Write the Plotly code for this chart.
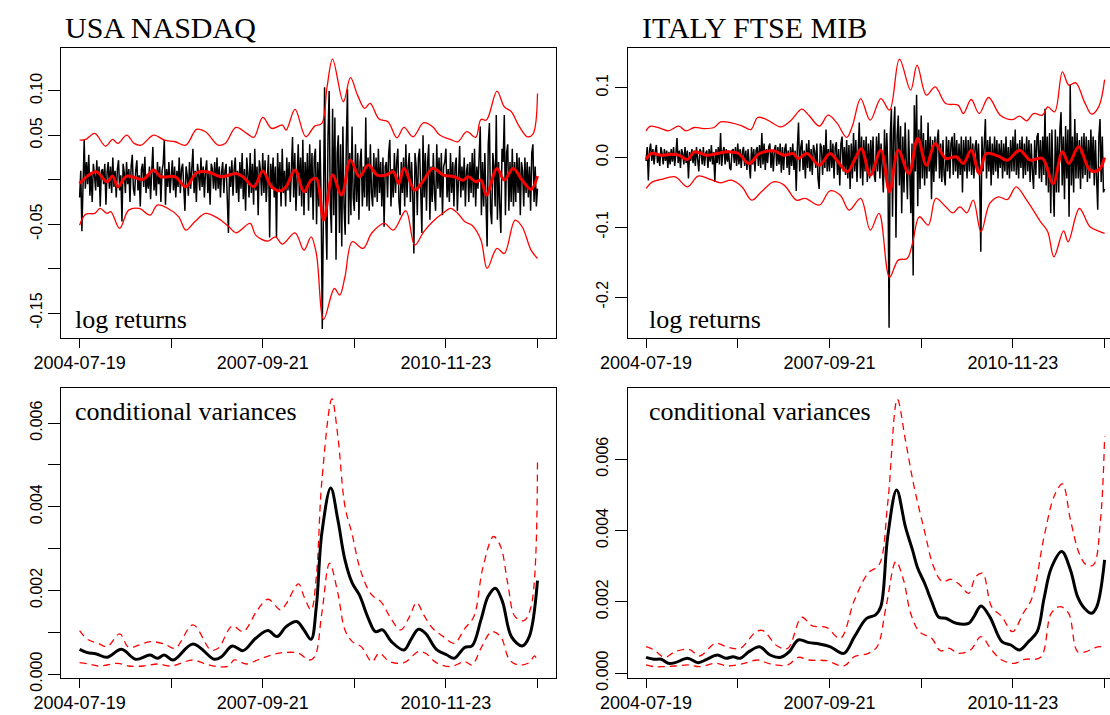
import plotly.graph_objects as go

W, H = 1110, 715

# ---------------- data ----------------
date_ticks = [0, 400, 800, 1200, 1600, 2000]
date_labels = ["2004-07-19", "", "2007-09-21", "", "2010-11-23", ""]

# log returns, one value every 5 observations (index 0..2000)
nasdaq_ret = [
    -0.020, 0.010, -0.058, 0.015, 0.045, -0.010, 0.020, -0.005, 0.028, -0.018, 0.008, -0.025, 0.018, 0.005, -0.012, 0.022, -0.008, 0.015, -0.030, 0.010,
    0.012, -0.005, 0.018, -0.028, 0.008, 0.020, -0.010, 0.015, -0.015, 0.025, -0.008, 0.010, -0.020, 0.012, 0.022, -0.012, 0.005, -0.047, 0.018, 0.008,
    -0.015, 0.020, -0.005, 0.012, -0.025, 0.015, 0.028, -0.010, -0.018, 0.010, 0.022, -0.012, 0.005, -0.030, 0.012, 0.018, -0.008, 0.026, -0.015, 0.006,
    -0.010, 0.015, -0.022, 0.010, 0.037, -0.012, 0.008, -0.018, 0.020, -0.005, 0.015, -0.025, 0.010, 0.018, 0.045, -0.028, 0.012, -0.008, 0.020, -0.015,
    0.008, 0.022, -0.012, 0.015, -0.020, 0.010, -0.008, 0.025, -0.015, 0.012, 0.018, -0.010, -0.035, 0.015, 0.005, -0.018, 0.020, -0.010, 0.012, 0.035,
    -0.015, 0.010, -0.025, 0.018, 0.005, -0.012, 0.025, -0.008, 0.015, -0.020, 0.010, 0.022, -0.015, 0.008, -0.028, 0.018, 0.012, -0.010, 0.020, -0.012,
    0.025, -0.010, 0.015, -0.020, 0.008, 0.020, -0.015, 0.010, 0.018, -0.012, -0.060, 0.015, -0.008, 0.022, -0.018, 0.012, 0.025, -0.015, 0.010, -0.025,
    0.020, -0.010, 0.030, -0.022, 0.012, -0.035, 0.025, 0.008, -0.020, 0.030, -0.015, 0.018, -0.028, 0.035, -0.012, 0.015, -0.040, 0.022, 0.010, -0.018,
    0.030, -0.015, 0.022, -0.025, 0.012, 0.028, -0.065, 0.018, -0.010, 0.025, -0.020, 0.015, -0.065, 0.030, -0.012, 0.020, -0.030, 0.035, -0.015, 0.010,
    -0.030, 0.025, -0.012, 0.020, -0.025, 0.015, 0.048, -0.020, 0.030, -0.035, 0.012, 0.040, -0.018, 0.025, -0.030, 0.045, -0.040, 0.020, -0.015, 0.030,
    -0.035, 0.040, -0.020, 0.030, -0.045, 0.025, 0.035, -0.050, 0.020, -0.030, 0.045, -0.025, -0.168, 0.030, 0.104, -0.040, -0.090, 0.050, 0.100, -0.030,
    -0.060, 0.080, -0.040, 0.070, -0.090, 0.030, 0.050, -0.060, 0.040, -0.075, 0.060, -0.030, -0.062, 0.040, 0.102, -0.050, 0.030, -0.040, 0.060, -0.020,
    -0.035, 0.040, -0.025, 0.030, -0.045, 0.020, 0.035, -0.030, 0.015, -0.020, 0.070, -0.030, 0.025, -0.035, 0.040, -0.015, -0.030, 0.030, -0.020, 0.025,
    -0.025, 0.035, -0.015, 0.020, -0.030, 0.025, -0.053, 0.015, 0.020, -0.020, 0.030, 0.045, -0.030, 0.012, -0.020, 0.030, -0.015, 0.020, 0.035, -0.025,
    -0.040, 0.020, -0.015, 0.025, -0.030, 0.040, -0.020, 0.015, 0.030, -0.025, 0.020, -0.015, -0.083, 0.030, 0.015, -0.040, 0.025, 0.035, -0.030, -0.060,
    0.050, -0.020, 0.030, -0.035, 0.020, 0.040, -0.045, 0.015, -0.025, 0.030, -0.015, -0.035, 0.040, -0.010, 0.025, -0.020, 0.030, -0.040, 0.015, 0.020,
    0.035, -0.020, 0.012, -0.025, 0.030, -0.015, 0.020, -0.030, 0.015, 0.025, -0.035, 0.010, 0.038, -0.020, 0.015, -0.012, 0.025, -0.030, 0.010, 0.018,
    -0.025, 0.020, -0.015, 0.030, -0.020, 0.035, -0.030, 0.015, -0.010, 0.025, 0.060, -0.040, 0.020, -0.030, 0.030, -0.025, -0.075, 0.040, 0.064, -0.035,
    -0.050, 0.030, 0.015, -0.030, 0.073, -0.045, 0.020, -0.030, -0.060, 0.035, 0.020, 0.073, -0.040, 0.030, 0.040, -0.035, 0.020, -0.025, 0.035, -0.030,
    0.020, -0.025, 0.030, -0.015, 0.025, -0.040, 0.020, 0.010, -0.030, 0.025, -0.015, 0.020, -0.020, 0.015, -0.035, 0.030, 0.040, -0.025, 0.015, -0.030,
    -0.010,
]
italy_ret = [
    -0.005, 0.015, -0.033, 0.010, 0.020, -0.005, 0.012, -0.010, 0.008, 0.018, -0.008, 0.005, -0.012, 0.015, 0.006, -0.010, 0.012, -0.005, 0.010, -0.015,
    0.008, -0.010, 0.012, -0.006, 0.015, -0.012, 0.005, 0.028, -0.008, 0.010, -0.015, 0.012, 0.006, -0.010, 0.015, -0.008, 0.010, -0.030, 0.008, -0.005,
    0.012, -0.008, 0.010, -0.012, 0.015, -0.005, -0.020, 0.012, 0.008, -0.010, 0.015, -0.012, 0.006, 0.010, -0.015, 0.012, -0.006, 0.018, -0.010, 0.008,
    -0.035, 0.012, -0.008, 0.015, -0.010, 0.035, -0.012, 0.008, 0.015, -0.010, 0.012, -0.006, 0.010, -0.015, -0.018, 0.010, 0.012, -0.008, 0.015, -0.012,
    0.020, -0.010, 0.012, -0.015, 0.008, 0.015, -0.012, 0.010, -0.018, 0.012, -0.008, -0.030, 0.015, -0.010, 0.012, -0.020, 0.010, 0.015, -0.012, 0.018,
    -0.015, 0.035, -0.010, 0.020, -0.018, 0.012, -0.008, 0.015, 0.020, -0.015, 0.010, -0.020, 0.012, 0.018, -0.012, 0.015, -0.010, 0.020, -0.022, 0.015,
    -0.018, 0.012, 0.020, -0.015, 0.010, -0.025, 0.015, -0.012, 0.020, -0.018, 0.010, -0.048, 0.015, 0.050, -0.020, 0.015, 0.025, -0.018, 0.010, -0.030,
    0.020, -0.015, 0.025, -0.020, 0.012, -0.025, 0.018, 0.010, -0.015, 0.020, -0.030, -0.045, 0.020, 0.015, -0.025, 0.018, -0.015, 0.040, -0.020, 0.012,
    -0.020, 0.025, -0.015, 0.020, -0.030, 0.015, 0.022, -0.025, 0.012, -0.040, 0.020, 0.030, -0.020, 0.015, -0.025, 0.025, -0.030, 0.018, -0.045, 0.020,
    -0.030, 0.035, -0.020, 0.025, -0.035, 0.020, 0.050, -0.030, 0.030, -0.040, 0.025, -0.020, 0.030, -0.035, 0.020, -0.030, 0.025, -0.020, 0.030, -0.025,
    -0.035, 0.030, -0.020, 0.035, -0.030, 0.020, -0.025, -0.050, 0.040, -0.030, 0.035, -0.020, -0.244, 0.030, 0.070, -0.085, 0.040, 0.073, -0.115, 0.030,
    0.060, -0.040, 0.045, -0.080, 0.030, -0.050, 0.050, -0.030, -0.060, 0.040, -0.030, -0.080, 0.020, -0.169, 0.075, -0.020, 0.090, -0.070, 0.040, -0.045,
    0.060, -0.030, 0.035, -0.040, 0.025, -0.030, 0.050, -0.020, 0.030, -0.060, 0.025, -0.035, 0.030, -0.020, 0.025, 0.040, -0.030, 0.020, -0.035, 0.025,
    -0.025, -0.040, 0.030, -0.020, 0.025, -0.030, 0.020, 0.030, -0.025, 0.035, -0.020, 0.025, -0.030, 0.020, -0.025, 0.030, -0.050, 0.025, -0.020, 0.030,
    -0.030, 0.025, -0.020, 0.030, -0.025, 0.020, -0.030, 0.015, 0.025, -0.020, 0.020, -0.030, -0.135, 0.030, -0.020, 0.025, 0.055, -0.030, 0.025, -0.020,
    0.030, -0.040, 0.020, -0.025, 0.030, -0.020, 0.025, -0.030, 0.020, -0.015, 0.025, -0.030, 0.020, -0.020, 0.030, -0.025, 0.015, -0.030, 0.025, -0.020,
    0.030, -0.020, 0.040, -0.025, 0.020, -0.030, 0.025, -0.015, 0.030, -0.030, 0.020, -0.025, 0.030, -0.020, 0.025, -0.035, 0.020, -0.020, -0.045, 0.025,
    -0.025, 0.030, 0.035, -0.030, 0.025, -0.035, 0.030, -0.025, 0.070, -0.040, 0.030, -0.050, 0.035, -0.080, 0.040, -0.030, -0.085, 0.040, -0.050, 0.030,
    -0.050, 0.040, 0.065, -0.040, 0.030, -0.060, 0.045, -0.030, 0.040, -0.085, 0.105, -0.040, 0.030, -0.050, 0.055, -0.030, 0.035, -0.030, 0.025, -0.045,
    0.030, -0.030, 0.035, -0.025, 0.030, -0.035, 0.025, -0.030, 0.040, -0.020, 0.030, -0.040, 0.025, -0.030, -0.075, 0.030, 0.055, -0.035, 0.030, -0.050,
    -0.045,
]
nasdaq_idx = [5 * i for i in range(len(nasdaq_ret))]
italy_idx = [5 * i for i in range(len(italy_ret))]

# NASDAQ smoothed mean and bands
nq_up_x = [0, 27, 66, 113, 144, 167, 206, 238, 269, 323, 370, 417, 464, 511, 550, 605, 636, 683, 730, 761,
           800, 839, 886, 902, 941, 988, 1027, 1058, 1081, 1105, 1152, 1183, 1214, 1245, 1269, 1308, 1347,
           1386, 1417, 1456, 1503, 1542, 1573, 1620, 1652, 1691, 1730, 1753, 1777, 1823, 1855, 1886, 1917,
           1956, 1980, 2000]
nq_up_y = [0.0447, 0.0454, 0.0522, 0.0379, 0.0454, 0.0409, 0.0503, 0.0409, 0.0390, 0.0503, 0.0447, 0.0428,
           0.0390, 0.0567, 0.0541, 0.0390, 0.0409, 0.0589, 0.0522, 0.0477, 0.0702, 0.0578, 0.0616, 0.0559,
           0.0792, 0.0484, 0.0604, 0.0634, 0.1047, 0.1359, 0.0878, 0.1149, 0.0953, 0.0803, 0.0860, 0.0683,
           0.0653, 0.0473, 0.0589, 0.0484, 0.0642, 0.0597, 0.0503, 0.0454, 0.0428, 0.0541, 0.0477, 0.0679,
           0.0672, 0.0998, 0.0822, 0.0766, 0.0616, 0.0484, 0.0514, 0.0972]
nq_lo_x = [0, 27, 66, 89, 120, 136, 175, 214, 261, 308, 339, 386, 433, 464, 503, 550, 605, 652, 683, 745,
           769, 823, 855, 886, 941, 980, 1011, 1034, 1066, 1113, 1136, 1159, 1191, 1238, 1277, 1331, 1370,
           1425, 1464, 1503, 1542, 1589, 1620, 1652, 1683, 1714, 1753, 1780, 1823, 1855, 1902, 1933, 1972,
           2000]
nq_lo_y = [-0.0511, -0.0387, -0.0379, -0.0323, -0.0379, -0.0360, -0.0548, -0.0342, -0.0323, -0.0398,
           -0.0285, -0.0323, -0.0417, -0.0567, -0.0473, -0.0379, -0.0435, -0.0529, -0.0597, -0.0492,
           -0.0623, -0.0691, -0.0642, -0.0724, -0.0597, -0.0792, -0.0642, -0.0830, -0.1573, -0.1224,
           -0.1299, -0.1092, -0.0698, -0.0773, -0.0597, -0.0492, -0.0567, -0.0349, -0.0736, -0.0586,
           -0.0473, -0.0372, -0.0323, -0.0379, -0.0473, -0.0511, -0.0679, -0.0998, -0.0773, -0.0830,
           -0.0454, -0.0529, -0.0792, -0.0886]
nq_mean_x = [0, 34, 73, 120, 144, 167, 206, 277, 323, 355, 417, 464, 511, 558, 620, 683, 714, 761, 800, 839,
             878, 902, 941, 980, 1011, 1034, 1066, 1105, 1144, 1183, 1222, 1261, 1300, 1339, 1370, 1394,
             1417, 1464, 1503, 1542, 1589, 1636, 1675, 1698, 1730, 1753, 1777, 1823, 1855, 1894, 1933,
             1972, 2000]
nq_mean_y = [-0.0041, 0.0041, 0.0090, -0.0023, 0.0041, -0.0079, 0.0041, 0.0004, 0.0109, 0.0034, 0.0034,
             -0.0079, 0.0079, 0.0090, 0.0034, 0.0071, 0.0034, -0.0079, 0.0098, -0.0079, -0.0124, -0.0079,
             0.0109, -0.0135, -0.0004, 0.0015, -0.0454, 0.0053, -0.0173, 0.0221, 0.0034, 0.0165, 0.0053,
             0.0053, 0.0090, -0.0041, 0.0128, -0.0116, -0.0004, 0.0128, 0.0053, 0.0034, -0.0004, 0.0034,
             -0.0023, -0.0004, -0.0173, 0.0128, -0.0004, 0.0128, -0.0004, -0.0109, 0.0041]

# ITALY smoothed mean and bands
it_up_x = [0, 20, 66, 97, 143, 173, 211, 250, 296, 326, 372, 418, 457, 487, 526, 587, 633, 679, 710, 756,
           794, 832, 875, 901, 936, 978, 1024, 1062, 1105, 1154, 1182, 1223, 1261, 1307, 1361, 1384, 1418,
           1453, 1494, 1545, 1598, 1629, 1660, 1690, 1729, 1752, 1782, 1816, 1844, 1874, 1912, 1943, 1974,
           2000]
it_up_y = [0.0382, 0.0449, 0.0415, 0.0382, 0.0449, 0.0382, 0.0430, 0.0415, 0.0430, 0.0511, 0.0497, 0.0454,
           0.0401, 0.0573, 0.0544, 0.0439, 0.0535, 0.0692, 0.0606, 0.0449, 0.0606, 0.0497, 0.0287, 0.0463,
           0.0845, 0.0535, 0.0845, 0.0678, 0.1409, 0.0965, 0.1323, 0.0893, 0.1012, 0.0774, 0.0750, 0.0630,
           0.0831, 0.0630, 0.0860, 0.0606, 0.0544, 0.0592, 0.0525, 0.0630, 0.0606, 0.0726, 0.0654, 0.1227,
           0.1036, 0.1070, 0.0797, 0.0621, 0.0726, 0.1117]
it_lo_x = [0, 28, 66, 127, 181, 227, 280, 326, 372, 418, 461, 503, 556, 602, 656, 694, 756, 802, 847, 886,
           936, 978, 1016, 1062, 1100, 1139, 1162, 1192, 1231, 1264, 1307, 1338, 1369, 1399, 1427, 1461,
           1499, 1537, 1576, 1614, 1660, 1721, 1752, 1779, 1821, 1841, 1890, 1936, 1982, 2000]
it_lo_y = [-0.0444, -0.0349, -0.0315, -0.0277, -0.0420, -0.0267, -0.0315, -0.0363, -0.0325, -0.0420,
           -0.0611, -0.0492, -0.0349, -0.0396, -0.0611, -0.0587, -0.0683, -0.0478, -0.0540, -0.0755,
           -0.0587, -0.1041, -0.0802, -0.1719, -0.1471, -0.1447, -0.1232, -0.0850, -0.0969, -0.0587,
           -0.0707, -0.0793, -0.0707, -0.0793, -0.0611, -0.1065, -0.0659, -0.0564, -0.0602, -0.0420,
           -0.0611, -0.0922, -0.1065, -0.1423, -0.1051, -0.1208, -0.0731, -0.0993, -0.1065, -0.1089]
it_mean_x = [0, 23, 66, 112, 143, 181, 211, 265, 311, 357, 403, 449, 495, 556, 602, 641, 664, 702, 756, 802,
             832, 878, 909, 939, 978, 1024, 1062, 1100, 1146, 1185, 1223, 1261, 1307, 1353, 1384, 1418,
             1453, 1484, 1537, 1576, 1629, 1675, 1729, 1775, 1816, 1844, 1887, 1936, 1974, 2000]
it_mean_y = [-0.0029, 0.0057, 0.0033, 0.0048, 0.0033, -0.0029, 0.0081, 0.0033, 0.0057, 0.0081, 0.0057,
             -0.0086, 0.0057, 0.0096, 0.0033, 0.0057, -0.0014, 0.0057, -0.0110, 0.0057, -0.0038, -0.0205,
             -0.0038, 0.0129, -0.0253, 0.0105, -0.0492, 0.0105, -0.0229, 0.0272, -0.0110, 0.0201, -0.0014,
             0.0010, -0.0086, 0.0105, -0.0229, 0.0057, 0.0019, -0.0038, 0.0105, -0.0038, -0.0014, -0.0372,
             0.0081, -0.0086, 0.0153, -0.0181, -0.0181, 0.0000]

# NASDAQ conditional variances
nq_var_x = [0, 34, 73, 120, 183, 245, 308, 339, 370, 409, 495, 589, 620, 667, 714, 769, 823, 862, 902, 948,
            980, 1011, 1034, 1058, 1097, 1128, 1159, 1191, 1222, 1261, 1292, 1323, 1362, 1417, 1448, 1480,
            1511, 1558, 1605, 1636, 1683, 1714, 1753, 1784, 1816, 1847, 1886, 1933, 1964, 2000]
nq_var_y = [0.000590, 0.000511, 0.000479, 0.000399, 0.000590, 0.000351, 0.000455, 0.000375, 0.000455,
            0.000335, 0.000718, 0.000351, 0.000415, 0.000670, 0.000559, 0.000854, 0.001037, 0.000894,
            0.001133, 0.001253, 0.001053, 0.000830, 0.001612, 0.003367, 0.004444, 0.003686, 0.002729,
            0.002170, 0.001891, 0.001332, 0.001013, 0.001053, 0.000774, 0.000574, 0.000830, 0.001069,
            0.000973, 0.000590, 0.000455, 0.000375, 0.000638, 0.000670, 0.001293, 0.001851, 0.002051,
            0.001731, 0.000894, 0.000670, 0.000894, 0.002234]
nq_vup_x = [0, 34, 81, 120, 175, 214, 261, 308, 370, 417, 495, 573, 605, 667, 714, 777, 823, 878, 902, 956,
            980, 1011, 1034, 1058, 1102, 1128, 1159, 1191, 1222, 1261, 1284, 1316, 1355, 1402, 1441, 1472,
            1503, 1542, 1589, 1636, 1683, 1722, 1761, 1808, 1839, 1870, 1902, 1941, 1972, 2000]
nq_vup_y = [0.001037, 0.000830, 0.000734, 0.000654, 0.000957, 0.000638, 0.000694, 0.000774, 0.000718,
            0.000614, 0.001173, 0.000574, 0.000614, 0.001149, 0.001013, 0.001532, 0.001787, 0.001532,
            0.001676, 0.002154, 0.001851, 0.001532, 0.002330, 0.004604, 0.006575, 0.005681, 0.004006,
            0.003327, 0.002569, 0.002011, 0.001851, 0.001731, 0.001372, 0.001053, 0.001372, 0.001708,
            0.001412, 0.001093, 0.000894, 0.000734, 0.001093, 0.001372, 0.002529, 0.003287, 0.003048,
            0.002170, 0.001372, 0.001277, 0.001612, 0.005162]
nq_vlo_x = [0, 42, 81, 120, 167, 214, 277, 339, 402, 448, 495, 550, 605, 652, 675, 730, 777, 839, 886, 956,
            1003, 1027, 1058, 1092, 1128, 1159, 1191, 1230, 1277, 1308, 1355, 1417, 1480, 1511, 1558, 1620,
            1683, 1714, 1753, 1800, 1839, 1878, 1917, 1964, 1987, 2000]
nq_vlo_y = [0.000271, 0.000239, 0.000191, 0.000215, 0.000255, 0.000191, 0.000191, 0.000239, 0.000191,
            0.000271, 0.000335, 0.000239, 0.000176, 0.000191, 0.000335, 0.000239, 0.000335, 0.000455,
            0.000511, 0.000495, 0.000335, 0.000415, 0.001452, 0.002649, 0.001931, 0.001053, 0.000774,
            0.000654, 0.000295, 0.000495, 0.000295, 0.000271, 0.000535, 0.000495, 0.000271, 0.000176,
            0.000295, 0.000215, 0.000614, 0.001013, 0.000894, 0.000335, 0.000215, 0.000271, 0.000431,
            0.000295]

# ITALY conditional variances
it_var_x = [0, 35, 66, 97, 127, 181, 227, 265, 311, 349, 380, 411, 449, 495, 541, 587, 625, 664, 710, 756,
            802, 863, 909, 962, 1001, 1024, 1054, 1093, 1131, 1162, 1185, 1215, 1246, 1277, 1307, 1353, 1407,
            1430, 1461, 1499, 1552, 1591, 1629, 1668, 1706, 1736, 1767, 1813, 1851, 1882, 1912, 1943, 1966,
            2000]
it_var_y = [0.000440, 0.000384, 0.000384, 0.000271, 0.000290, 0.000412, 0.000290, 0.000384, 0.000505,
            0.000412, 0.000459, 0.000412, 0.000599, 0.000739, 0.000505, 0.000440, 0.000599, 0.000927,
            0.000852, 0.000814, 0.000739, 0.000552, 0.001020, 0.001535, 0.001629, 0.001863, 0.003828,
            0.005139, 0.004109, 0.003454, 0.002939, 0.002518, 0.002003, 0.001563, 0.001535, 0.001395,
            0.001395, 0.001582, 0.001881, 0.001582, 0.000880, 0.000786, 0.000646, 0.000880, 0.001161,
            0.002097, 0.002939, 0.003407, 0.002892, 0.002143, 0.001816, 0.001675, 0.001863, 0.003173]
it_vup_x = [0, 35, 81, 127, 188, 234, 303, 357, 411, 480, 510, 572, 618, 679, 725, 786, 847, 909, 970, 1016,
            1054, 1096, 1131, 1169, 1215, 1254, 1292, 1330, 1369, 1407, 1438, 1468, 1507, 1552, 1598, 1645,
            1683, 1736, 1782, 1816, 1851, 1889, 1920, 1951, 1982, 2000]
it_vup_y = [0.000739, 0.000646, 0.000440, 0.000599, 0.000665, 0.000477, 0.000833, 0.000721, 0.000693,
            0.001161, 0.001189, 0.000758, 0.000693, 0.001563, 0.001320, 0.001283, 0.000973, 0.002050,
            0.002817, 0.003033, 0.004764, 0.007685, 0.006543, 0.005232, 0.003969, 0.002986, 0.002565,
            0.002630, 0.002471, 0.002237, 0.002705, 0.002799, 0.001863, 0.001582, 0.001161, 0.001675,
            0.002097, 0.003828, 0.004998, 0.005307, 0.004296, 0.003360, 0.003033, 0.003033, 0.004296,
            0.006636]
it_vlo_x = [0, 35, 81, 127, 188, 234, 303, 357, 418, 487, 541, 618, 664, 710, 786, 863, 909, 970, 1008, 1047,
            1090, 1123, 1154, 1192, 1246, 1284, 1323, 1361, 1415, 1461, 1507, 1552, 1606, 1652, 1721, 1767,
            1805, 1843, 1882, 1920, 1951, 1982, 2000]
it_vlo_y = [0.000225, 0.000178, 0.000178, 0.000197, 0.000225, 0.000178, 0.000271, 0.000197, 0.000253,
            0.000365, 0.000253, 0.000225, 0.000440, 0.000365, 0.000346, 0.000197, 0.000459, 0.000552,
            0.000739, 0.001863, 0.003126, 0.002611, 0.001675, 0.001161, 0.000973, 0.000627, 0.000693,
            0.000552, 0.000646, 0.001020, 0.000646, 0.000365, 0.000271, 0.000384, 0.000440, 0.001675,
            0.001863, 0.001675, 0.000599, 0.000599, 0.000693, 0.000739, 0.000693]

titles = ["USA NASDAQ", "ITALY FTSE MIB"]
panel_labels = ["log returns", "conditional variances"]

# ---------------- figure ----------------
RED = "#FF0000"
fig = go.Figure()


def add_line(x, y, ax, color, width, dash="solid", spline=False):
    fig.add_trace(go.Scatter(
        x=x, y=y, mode="lines", xaxis="x" + ax, yaxis="y" + ax,
        line=dict(color=color, width=width, dash=dash,
                  shape="spline" if spline else "linear", smoothing=1.0 if spline else None),
        hoverinfo="skip", showlegend=False))


# top-left: NASDAQ returns
add_line(nasdaq_idx, nasdaq_ret, "", "black", 1.5)
add_line(nq_up_x, nq_up_y, "", RED, 1.3, spline=True)
add_line(nq_lo_x, nq_lo_y, "", RED, 1.3, spline=True)
add_line(nq_mean_x, nq_mean_y, "", RED, 3.0, spline=True)
# top-right: ITALY returns
add_line(italy_idx, italy_ret, "2", "black", 1.5)
add_line(it_up_x, it_up_y, "2", RED, 1.3, spline=True)
add_line(it_lo_x, it_lo_y, "2", RED, 1.3, spline=True)
add_line(it_mean_x, it_mean_y, "2", RED, 3.0, spline=True)
# bottom-left: NASDAQ variances
add_line(nq_vup_x, nq_vup_y, "3", RED, 1.3, dash="7px,5px", spline=True)
add_line(nq_vlo_x, nq_vlo_y, "3", RED, 1.3, dash="7px,5px", spline=True)
add_line(nq_var_x, nq_var_y, "3", "black", 3.0, spline=True)
# bottom-right: ITALY variances
add_line(it_vup_x, it_vup_y, "4", RED, 1.3, dash="7px,5px", spline=True)
add_line(it_vlo_x, it_vlo_y, "4", RED, 1.3, dash="7px,5px", spline=True)
add_line(it_var_x, it_var_y, "4", "black", 3.0, spline=True)

LEFT_X = [61.3 / W, 555.8 / W]
RIGHT_X = [627.7 / W, 1.0]
TOP_Y = [1 - 337.7 / H, 1 - 48.3 / H]
BOT_Y = [1 - 677.7 / H, 1 - 388.3 / H]

xfont = dict(family="Liberation Sans, Arial, sans-serif", size=18, color="black")
yfont = dict(family="Liberation Sans, Arial, sans-serif", size=16, color="black")


def xaxis(domain, rng, anchor):
    return dict(domain=domain, range=rng, anchor=anchor, showline=True, linecolor="black", linewidth=1,
                mirror=True, ticks="outside", ticklen=9, tickwidth=1, tickcolor="black",
                tickmode="array", tickvals=date_ticks, ticktext=date_labels, tickfont=xfont,
                showgrid=False, zeroline=False, fixedrange=True, automargin=False)


def yaxis(domain, rng, anchor, vals, text, mirror):
    return dict(domain=domain, range=rng, anchor=anchor, showline=True, linecolor="black", linewidth=1,
                mirror=mirror, ticks="outside", ticklen=12, tickwidth=1, tickcolor="black",
                tickmode="array", tickvals=vals, ticktext=text, tickangle=-90, tickfont=yfont,
                showgrid=False, zeroline=False, fixedrange=True, automargin=False)


fig.update_layout(
    template="none",
    width=W, height=H, margin=dict(l=0, r=0, t=0, b=0, pad=0, autoexpand=False),
    paper_bgcolor="white", plot_bgcolor="white", showlegend=False,
    xaxis=xaxis(LEFT_X, [-80, 2080], "y"),
    yaxis=yaxis(TOP_Y, [-0.1778, 0.148], "x", [-0.15, -0.10, -0.05, 0.0, 0.05, 0.10],
                ["-0.15", "", "-0.05", "", "0.05", "0.10"], True),
    xaxis2=xaxis(RIGHT_X, [-80, 2023.5], "y2"),
    yaxis2=yaxis(TOP_Y, [-0.2583, 0.1565], "x2", [-0.2, -0.1, 0.0, 0.1],
                 ["-0.2", "-0.1", "0.0", "0.1"], False),
    xaxis3=xaxis(LEFT_X, [-80, 2080], "y3"),
    yaxis3=yaxis(BOT_Y, [-0.0000885, 0.00683], "x3",
                 [0.0, 0.001, 0.002, 0.003, 0.004, 0.005, 0.006],
                 ["0.000", "", "0.002", "", "0.004", "", "0.006"], True),
    xaxis4=xaxis(RIGHT_X, [-80, 2023.5], "y4"),
    yaxis4=yaxis(BOT_Y, [-0.000132, 0.00799], "x4", [0.0, 0.002, 0.004, 0.006],
                 ["0.000", "0.002", "0.004", "0.006"], False),
)

serif = "Liberation Serif, Times New Roman, serif"
ann = []
for txt, px in zip(titles, [63, 640]):
    ann.append(dict(text=txt, x=px / W, y=1 - 28 / H, xref="paper", yref="paper", xanchor="left",
                    yanchor="middle", showarrow=False, font=dict(family=serif, size=30, color="black")))
for px in [73, 647]:
    ann.append(dict(text=panel_labels[0], x=px / W, y=1 - 319 / H, xref="paper", yref="paper",
                    xanchor="left", yanchor="middle", showarrow=False,
                    font=dict(family=serif, size=26, color="black")))
    ann.append(dict(text=panel_labels[1], x=px / W, y=1 - 411 / H, xref="paper", yref="paper",
                    xanchor="left", yanchor="middle", showarrow=False,
                    font=dict(family=serif, size=26, color="black")))
fig.update_layout(annotations=ann)

fig.write_html("out.html")
